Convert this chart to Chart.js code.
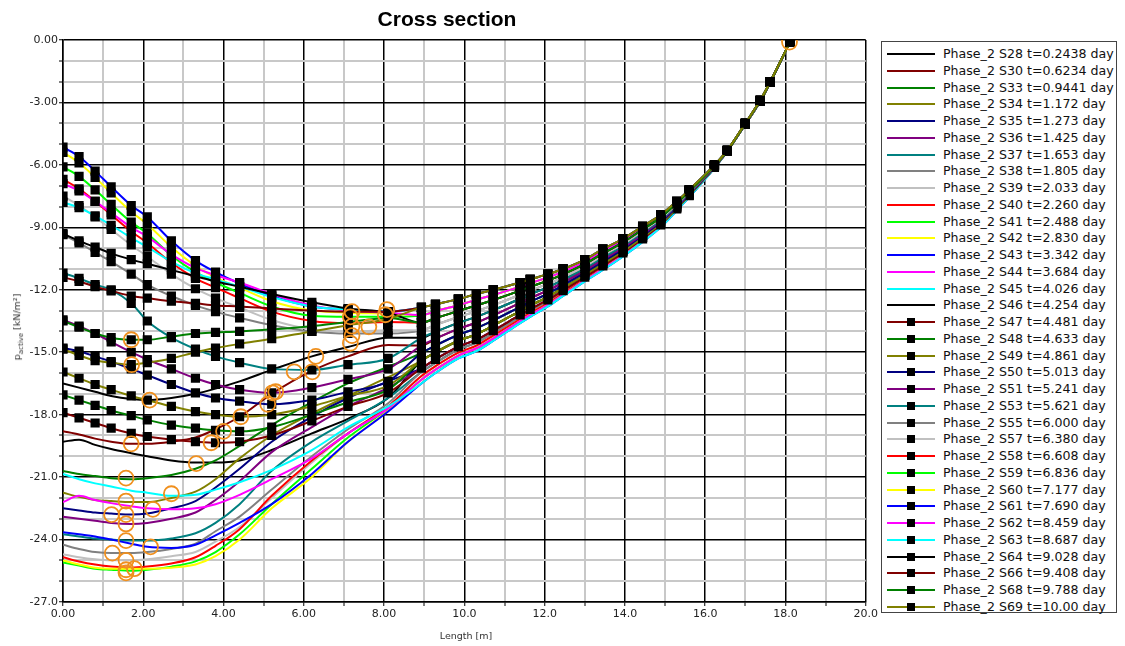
<!DOCTYPE html>
<html>
<head>
<meta charset="utf-8">
<script src="https://cdn.jsdelivr.net/npm/chart.js@4.4.1/dist/chart.umd.min.js"></script>
<style>
  html, body { margin: 0; padding: 0; background: #fff; }
  body { width: 1125px; height: 646px; position: relative; overflow: hidden; font-family: "DejaVu Sans", sans-serif; }
  #plot { position: absolute; left: 0; top: 0; width: 880px; height: 646px; }
  #title { position: absolute; left: 0; top: 7px; width: 894px; text-align: center; font: bold 21px "Liberation Sans", Arial, sans-serif; color: #000; }
  #ytitle { position: absolute; left: 18px; top: 327px; transform: translate(-50%, -50%) rotate(-90deg); white-space: nowrap; font-size: 9.5px; color: #333; }
  #ytitle sub { font-size: 7px; }
  #xtitle { position: absolute; left: 466px; top: 630px; transform: translateX(-50%); white-space: nowrap; font-size: 9.5px; color: #333; }
  #legend { position: absolute; left: 881px; top: 41px; width: 236px; height: 572px; border: 1.5px solid #444; box-sizing: border-box; }
  .row { position: absolute; left: 0; height: 16px; width: 236px; }
  .row .ln { position: absolute; left: 5px; top: 7px; width: 48px; height: 2px; }
  .row .mk { position: absolute; left: 25px; top: 4px; width: 8px; height: 8px; background: #000; }
  .row .tx { position: absolute; left: 61px; top: 0; line-height: 16px; font-size: 12.6px; color: #111; white-space: nowrap; }
</style>
</head>
<body>
<div id="plot"><canvas id="c"></canvas></div>
<div id="title">Cross section</div>
<div id="ytitle">p<sub>active</sub> [kN/m²]</div>
<div id="xtitle">Length [m]</div>
<div id="legend"></div>
<script>
// abscisa de los nodos (m)
const lengthM = [0, 0.4, 0.8, 1.2, 1.7, 2.1, 2.7, 3.3, 3.8, 4.4, 5.2, 6.2, 7.1, 8.1,
  8.93, 9.28, 9.85, 10.3, 10.72, 11.39, 11.64, 12.08, 12.46, 13.0, 13.45, 13.95, 14.44, 14.89, 15.29, 15.6,
  16.23, 16.55, 17.0, 17.37, 17.62, 18.11];

// p_active por paso de cálculo (kN/m2)
const s28 = [-19.3, -19.2, -19.45, -19.65, -19.85, -20.0, -20.2, -20.3, -20.3, -20.2, -19.7, -18.9, -18.2, -17.2,
  -15.41, -15.01, -14.45, -14.13, -13.72, -13.02, -12.76, -12.34, -11.91, -11.29, -10.75, -10.15, -9.48, -8.82, -8.07, -7.45, -6.11, -5.33, -4.04, -2.94, -2.04, -0.1];
const s30 = [-18.8, -18.95, -19.15, -19.3, -19.4, -19.4, -19.3, -19.1, -18.7, -18.1, -17.0, -15.9, -15.2, -14.65,
  -14.68, -14.35, -13.88, -13.58, -13.23, -12.63, -12.4, -12.03, -11.65, -11.08, -10.55, -9.98, -9.33, -8.7, -7.98, -7.38, -6.08, -5.32, -4.03, -2.93, -2.03, -0.1];
const s33 = [-20.7, -20.85, -20.95, -21.05, -21.1, -21.05, -20.9, -20.6, -20.2, -19.5, -18.5, -17.4, -16.5, -15.7,
  -15.04, -14.68, -14.16, -13.85, -13.47, -12.82, -12.58, -12.18, -11.78, -11.18, -10.65, -10.06, -9.4, -8.76, -8.02, -7.41, -6.09, -5.33, -4.03, -2.93, -2.03, -0.1];
const s34 = [-21.75, -21.95, -22.1, -22.15, -22.2, -22.2, -22.0, -21.7, -21.1, -20.1, -19.0, -17.95, -17.1, -16.2,
  -15.41, -15.01, -14.45, -14.13, -13.72, -13.02, -12.76, -12.34, -11.91, -11.29, -10.75, -10.15, -9.48, -8.82, -8.07, -7.45, -6.11, -5.33, -4.04, -2.94, -2.04, -0.1];
const s35 = [-22.5, -22.6, -22.7, -22.75, -22.8, -22.75, -22.5, -22.15, -21.5, -20.6, -19.3, -18.1, -17.2, -16.4,
  -15.77, -15.34, -14.73, -14.4, -13.96, -13.21, -12.94, -12.49, -12.04, -11.39, -10.85, -10.23, -9.55, -8.88, -8.11, -7.48, -6.12, -5.34, -4.04, -2.94, -2.04, -0.1];
const s36 = [-22.9, -23.0, -23.1, -23.2, -23.25, -23.2, -23.0, -22.7, -22.1, -21.2, -19.8, -18.6, -17.6, -16.7,
  -15.77, -15.34, -14.73, -14.4, -13.96, -13.21, -12.94, -12.49, -12.04, -11.39, -10.85, -10.23, -9.55, -8.88, -8.11, -7.48, -6.12, -5.34, -4.04, -2.94, -2.04, -0.1];
const s37 = [-23.75, -23.85, -23.95, -24.0, -24.05, -24.05, -23.95, -23.7, -23.2, -22.3, -20.7, -19.3, -18.3, -17.2,
  -15.95, -15.51, -14.87, -14.54, -14.08, -13.31, -13.03, -12.57, -12.11, -11.44, -10.9, -10.27, -9.59, -8.91, -8.13, -7.5, -6.13, -5.34, -4.04, -2.94, -2.04, -0.1];
const s38 = [-24.25, -24.45, -24.6, -24.65, -24.65, -24.6, -24.45, -24.2, -23.6, -22.9, -21.6, -20.0, -18.7, -17.45,
  -15.95, -15.51, -14.87, -14.54, -14.08, -13.31, -13.03, -12.57, -12.11, -11.44, -10.9, -10.27, -9.59, -8.91, -8.13, -7.5, -6.13, -5.34, -4.04, -2.94, -2.04, -0.1];
const s39 = [-24.7, -24.85, -24.95, -25.0, -25.0, -24.95, -24.8, -24.6, -24.1, -23.4, -22.0, -20.3, -18.9, -17.6,
  -16.14, -15.67, -15.02, -14.68, -14.2, -13.41, -13.12, -12.65, -12.17, -11.5, -10.95, -10.32, -9.63, -8.94, -8.16, -7.52, -6.14, -5.34, -4.04, -2.94, -2.04, -0.1];
const s40 = [-24.85, -25.05, -25.2, -25.3, -25.35, -25.3, -25.15, -24.85, -24.3, -23.5, -21.9, -20.2, -18.9, -17.6,
  -16.14, -15.67, -15.02, -14.68, -14.2, -13.41, -13.12, -12.65, -12.17, -11.5, -10.95, -10.32, -9.63, -8.94, -8.16, -7.52, -6.14, -5.34, -4.04, -2.94, -2.04, -0.1];
const s41 = [-25.1, -25.25, -25.4, -25.45, -25.5, -25.45, -25.3, -25.05, -24.6, -23.75, -22.3, -20.6, -19.1, -17.7,
  -16.32, -15.84, -15.16, -14.81, -14.33, -13.5, -13.21, -12.72, -12.24, -11.55, -11.0, -10.36, -9.66, -8.97, -8.18, -7.53, -6.14, -5.35, -4.05, -2.95, -2.05, -0.1];
const s42 = [-25.0, -25.2, -25.35, -25.4, -25.4, -25.4, -25.35, -25.2, -24.8, -24.0, -22.5, -21.0, -19.3, -17.8,
  -16.32, -15.84, -15.16, -14.81, -14.33, -13.5, -13.21, -12.72, -12.24, -11.55, -11.0, -10.36, -9.66, -8.97, -8.18, -7.53, -6.14, -5.35, -4.05, -2.95, -2.05, -0.1];
const s43 = [-23.65, -23.75, -23.85, -24.0, -24.2, -24.35, -24.4, -24.25, -23.8, -23.2, -22.3, -20.85, -19.3, -17.85,
  -16.5, -16.0, -15.3, -14.95, -14.45, -13.6, -13.3, -12.8, -12.3, -11.6, -11.05, -10.4, -9.7, -9.0, -8.2, -7.55, -6.15, -5.35, -4.05, -2.95, -2.05, -0.1];
const s44 = [-22.2, -21.9, -22.1, -22.25, -22.4, -22.5, -22.55, -22.5, -22.3, -21.85, -21.1, -20.1, -18.9, -17.7,
  -16.32, -15.84, -15.16, -14.81, -14.33, -13.5, -13.21, -12.72, -12.24, -11.55, -11.0, -10.36, -9.66, -8.97, -8.18, -7.53, -6.14, -5.35, -4.05, -2.95, -2.05, -0.1];
const s45 = [-20.85, -21.1, -21.3, -21.45, -21.65, -21.75, -21.9, -21.85, -21.6, -21.25, -20.65, -19.7, -18.6, -17.6,
  -16.5, -16.0, -15.3, -14.95, -14.45, -13.6, -13.3, -12.8, -12.3, -11.6, -11.05, -10.4, -9.7, -9.0, -8.2, -7.55, -6.15, -5.35, -4.05, -2.95, -2.05, -0.1];
const s46 = [-16.5, -16.7, -16.9, -17.1, -17.25, -17.3, -17.2, -17.0, -16.75, -16.4, -15.85, -15.2, -14.75, -14.3,
  -14.31, -14.02, -13.59, -13.3, -12.98, -12.43, -12.22, -11.87, -11.52, -10.97, -10.45, -9.89, -9.25, -8.64, -7.93, -7.34, -6.06, -5.32, -4.02, -2.92, -2.02, -0.1];
const s47 = [-17.9, -18.15, -18.4, -18.65, -18.9, -19.05, -19.2, -19.3, -19.35, -19.3, -19.0, -18.3, -17.6, -16.95,
  -15.77, -15.34, -14.73, -14.4, -13.96, -13.21, -12.94, -12.49, -12.04, -11.39, -10.85, -10.23, -9.55, -8.88, -8.11, -7.48, -6.12, -5.34, -4.04, -2.94, -2.04, -0.1];
const s48 = [-17.05, -17.3, -17.55, -17.8, -18.05, -18.25, -18.5, -18.65, -18.75, -18.8, -18.6, -18.0, -17.4, -16.8,
  -15.41, -15.01, -14.45, -14.13, -13.72, -13.02, -12.76, -12.34, -11.91, -11.29, -10.75, -10.15, -9.48, -8.82, -8.07, -7.45, -6.11, -5.33, -4.04, -2.94, -2.04, -0.1];
const s49 = [-15.95, -16.25, -16.55, -16.8, -17.1, -17.3, -17.6, -17.85, -18.0, -18.1, -18.0, -17.6, -17.1, -16.6,
  -15.41, -15.01, -14.45, -14.13, -13.72, -13.02, -12.76, -12.34, -11.91, -11.29, -10.75, -10.15, -9.48, -8.82, -8.07, -7.45, -6.11, -5.33, -4.04, -2.94, -2.04, -0.1];
const s50 = [-14.8, -14.95, -15.2, -15.45, -15.8, -16.1, -16.55, -16.95, -17.2, -17.35, -17.5, -17.3, -16.9, -16.4,
  -15.04, -14.68, -14.16, -13.85, -13.47, -12.82, -12.58, -12.18, -11.78, -11.18, -10.65, -10.06, -9.4, -8.76, -8.02, -7.41, -6.09, -5.33, -4.03, -2.93, -2.03, -0.1];
const s51 = [-13.45, -13.75, -14.1, -14.5, -15.0, -15.35, -15.8, -16.25, -16.55, -16.8, -16.95, -16.7, -16.3, -15.8,
  -14.68, -14.35, -13.88, -13.58, -13.23, -12.63, -12.4, -12.03, -11.65, -11.08, -10.55, -9.98, -9.33, -8.7, -7.98, -7.38, -6.08, -5.32, -4.03, -2.93, -2.03, -0.1];
const s53 = [-11.2, -11.45, -11.75, -12.0, -12.65, -13.5, -14.3, -14.85, -15.2, -15.5, -15.8, -15.85, -15.6, -15.3,
  -14.31, -14.02, -13.59, -13.3, -12.98, -12.43, -12.22, -11.87, -11.52, -10.97, -10.45, -9.89, -9.25, -8.64, -7.93, -7.34, -6.06, -5.32, -4.02, -2.92, -2.02, -0.1];
const s55 = [-9.35, -9.75, -10.2, -10.65, -11.25, -11.75, -12.3, -12.75, -13.05, -13.35, -13.7, -14.0, -14.1, -14.1,
  -13.95, -13.69, -13.31, -13.03, -12.74, -12.24, -12.04, -11.72, -11.39, -10.87, -10.35, -9.81, -9.18, -8.58, -7.89, -7.31, -6.05, -5.31, -4.02, -2.92, -2.02, -0.1];
const s57 = [-7.5, -7.95, -8.5, -9.1, -9.85, -10.4, -11.25, -11.95, -12.4, -12.85, -13.45, -13.9, -14.0, -13.95,
  -13.95, -13.69, -13.31, -13.03, -12.74, -12.24, -12.04, -11.72, -11.39, -10.87, -10.35, -9.81, -9.18, -8.58, -7.89, -7.31, -6.05, -5.31, -4.02, -2.92, -2.02, -0.1];
const s58 = [-6.7, -7.15, -7.75, -8.4, -9.2, -9.75, -10.7, -11.45, -11.9, -12.4, -13.05, -13.5, -13.6, -13.55,
  -13.58, -13.36, -13.02, -12.75, -12.49, -12.04, -11.86, -11.56, -11.26, -10.76, -10.25, -9.72, -9.1, -8.52, -7.84, -7.27, -6.03, -5.31, -4.01, -2.91, -2.01, -0.1];
const s59 = [-6.1, -6.55, -7.2, -7.9, -8.75, -9.3, -10.35, -11.15, -11.65, -12.15, -12.8, -13.25, -13.3, -13.3,
  -13.22, -13.03, -12.74, -12.48, -12.25, -11.85, -11.68, -11.41, -11.13, -10.66, -10.15, -9.64, -9.03, -8.46, -7.8, -7.24, -6.02, -5.3, -4.0, -2.9, -2.0, -0.1];
const s60 = [-5.4, -5.9, -6.6, -7.35, -8.25, -8.85, -9.95, -10.85, -11.4, -11.9, -12.55, -13.0, -13.1, -13.15,
  -13.22, -13.03, -12.74, -12.48, -12.25, -11.85, -11.68, -11.41, -11.13, -10.66, -10.15, -9.64, -9.03, -8.46, -7.8, -7.24, -6.02, -5.3, -4.0, -2.9, -2.0, -0.1];
const s61 = [-5.15, -5.6, -6.3, -7.05, -7.95, -8.5, -9.65, -10.6, -11.15, -11.7, -12.3, -12.8, -12.95, -13.05,
  -12.85, -12.7, -12.45, -12.2, -12.0, -11.65, -11.5, -11.25, -11.0, -10.55, -10.05, -9.55, -8.95, -8.4, -7.75, -7.2, -6.0, -5.3, -4.0, -2.9, -2.0, -0.1];
const s62 = [-6.9, -7.25, -7.75, -8.3, -9.0, -9.45, -10.3, -10.95, -11.3, -11.65, -12.2, -12.75, -13.0, -13.1,
  -13.22, -13.03, -12.74, -12.48, -12.25, -11.85, -11.68, -11.41, -11.13, -10.66, -10.15, -9.64, -9.03, -8.46, -7.8, -7.24, -6.02, -5.3, -4.0, -2.9, -2.0, -0.1];
const s63 = [-7.8, -8.05, -8.45, -8.9, -9.5, -9.95, -10.65, -11.2, -11.5, -11.85, -12.35, -12.8, -12.95, -13.05,
  -12.85, -12.7, -12.45, -12.2, -12.0, -11.65, -11.5, -11.25, -11.0, -10.55, -10.05, -9.55, -8.95, -8.4, -7.75, -7.2, -6.0, -5.3, -4.0, -2.9, -2.0, -0.1];
const s64 = [-9.3, -9.65, -9.95, -10.25, -10.55, -10.75, -11.05, -11.35, -11.6, -11.85, -12.2, -12.6, -12.9, -13.1,
  -13.58, -13.36, -13.02, -12.75, -12.49, -12.04, -11.86, -11.56, -11.26, -10.76, -10.25, -9.72, -9.1, -8.52, -7.84, -7.27, -6.03, -5.31, -4.01, -2.91, -2.01, -0.1];
const s66 = [-11.4, -11.6, -11.85, -12.05, -12.3, -12.4, -12.55, -12.65, -12.75, -12.8, -12.9, -13.0, -13.05, -13.05,
  -12.85, -12.7, -12.45, -12.2, -12.0, -11.65, -11.5, -11.25, -11.0, -10.55, -10.05, -9.55, -8.95, -8.4, -7.75, -7.2, -6.0, -5.3, -4.0, -2.9, -2.0, -0.1];
const s68 = [-13.5, -13.8, -14.1, -14.3, -14.4, -14.4, -14.25, -14.1, -14.05, -14.0, -13.9, -13.75, -13.55, -13.35,
  -13.58, -13.36, -13.02, -12.75, -12.49, -12.04, -11.86, -11.56, -11.26, -10.76, -10.25, -9.72, -9.1, -8.52, -7.84, -7.27, -6.03, -5.31, -4.01, -2.91, -2.01, -0.1];
const s69 = [-14.85, -15.15, -15.4, -15.5, -15.6, -15.5, -15.3, -15.0, -14.8, -14.6, -14.35, -14.0, -13.7, -13.4,
  -12.85, -12.7, -12.45, -12.2, -12.0, -11.65, -11.5, -11.25, -11.0, -10.55, -10.05, -9.55, -8.95, -8.4, -7.75, -7.2, -6.0, -5.3, -4.0, -2.9, -2.0, -0.1];

// mínimos marcados con círculo naranja
const minX = [1.70, 3.69, 3.32, 1.57, 2.70, 1.57, 1.21, 1.57, 2.24, 1.57, 1.57, 2.18, 1.23, 1.57, 1.57, 1.78, 1.57, 1.70, 1.71, 2.16, 4.00, 4.43, 5.10, 5.22, 5.30, 5.76, 6.21, 6.30, 7.16, 7.20, 7.20, 7.16, 7.20, 7.62, 8.03, 8.07, 18.1];
const minY = [-19.4, -19.35, -20.35, -21.05, -21.8, -22.15, -22.8, -22.8, -22.55, -23.25, -24.05, -24.35, -24.65, -25.0, -25.45, -25.4, -25.6, -14.4, -15.6, -17.3, -18.8, -18.1, -17.5, -16.95, -16.9, -15.94, -15.94, -15.2, -14.57, -14.2, -13.75, -13.3, -13.05, -13.78, -13.2, -12.95, -0.1];

const stepNames = ['Phase_2 S28 t=0.2438 day', 'Phase_2 S30 t=0.6234 day', 'Phase_2 S33 t=0.9441 day', 'Phase_2 S34 t=1.172 day',
  'Phase_2 S35 t=1.273 day', 'Phase_2 S36 t=1.425 day', 'Phase_2 S37 t=1.653 day', 'Phase_2 S38 t=1.805 day',
  'Phase_2 S39 t=2.033 day', 'Phase_2 S40 t=2.260 day', 'Phase_2 S41 t=2.488 day', 'Phase_2 S42 t=2.830 day',
  'Phase_2 S43 t=3.342 day', 'Phase_2 S44 t=3.684 day', 'Phase_2 S45 t=4.026 day', 'Phase_2 S46 t=4.254 day',
  'Phase_2 S47 t=4.481 day', 'Phase_2 S48 t=4.633 day', 'Phase_2 S49 t=4.861 day', 'Phase_2 S50 t=5.013 day',
  'Phase_2 S51 t=5.241 day', 'Phase_2 S53 t=5.621 day', 'Phase_2 S55 t=6.000 day', 'Phase_2 S57 t=6.380 day',
  'Phase_2 S58 t=6.608 day', 'Phase_2 S59 t=6.836 day', 'Phase_2 S60 t=7.177 day', 'Phase_2 S61 t=7.690 day',
  'Phase_2 S62 t=8.459 day', 'Phase_2 S63 t=8.687 day', 'Phase_2 S64 t=9.028 day', 'Phase_2 S66 t=9.408 day',
  'Phase_2 S68 t=9.788 day', 'Phase_2 S69 t=10.00 day'];
const steps = [s28, s30, s33, s34, s35, s36, s37, s38, s39, s40, s41, s42, s43, s44, s45, s46,
  s47, s48, s49, s50, s51, s53, s55, s57, s58, s59, s60, s61, s62, s63, s64, s66, s68, s69];

const xTickLabels = ['0.00', '2.00', '4.00', '6.00', '8.00', '10.0', '12.0', '14.0', '16.0', '18.0', '20.0'];
const yTickLabels = ['0.00', '-3.00', '-6.00', '-9.00', '-12.0', '-15.0', '-18.0', '-21.0', '-24.0', '-27.0'];

// paleta de 15 colores que se repite
const palette = ['#000000', '#800000', '#008000', '#808000', '#000080', '#800080', '#008080', '#808080',
  '#c0c0c0', '#ff0000', '#00ff00', '#ffff00', '#0000ff', '#ff00ff', '#00ffff'];
const firstMarked = 16;

const datasets = steps.map(function (s, i) {
  return {
    label: stepNames[i],
    data: lengthM.map(function (x, k) { return { x: x, y: s[k] }; }),
    borderColor: palette[i % palette.length],
    borderWidth: 2,
    pointRadius: i >= firstMarked ? 6.5 : 0,
    pointHoverRadius: 0,
    pointStyle: 'rect',
    pointBackgroundColor: '#000',
    pointBorderColor: '#000',
    pointBorderWidth: 0,
    cubicInterpolationMode: 'monotone',
    order: 100 - i
  };
});

datasets.push({
  label: 'min',
  data: minX.map(function (x, k) { return { x: x, y: minY[k] }; }),
  showLine: false,
  pointRadius: 7.5,
  pointStyle: 'circle',
  pointBackgroundColor: 'rgba(0,0,0,0)',
  pointBorderColor: '#f0901e',
  pointBorderWidth: 1.8,
  order: 0
});

new Chart(document.getElementById('c'), {
  type: 'line',
  data: { datasets: datasets },
  options: {
    responsive: true,
    maintainAspectRatio: false,
    animation: false,
    layout: { padding: { top: 40, right: 11, left: 0, bottom: 0 } },
    plugins: { legend: { display: false }, tooltip: { enabled: false }, title: { display: false } },
    scales: {
      x: {
        type: 'linear', min: 0, max: 20,
        afterFit: function (scale) { scale.height = 44; },
        border: { color: '#000', width: 1.5 },
        grid: {
          color: function (c) { return c.tick.value % 2 === 0 ? '#000' : '#c8c8c8'; },
          lineWidth: function (c) { return c.tick.value % 2 === 0 ? 1.5 : 2; },
          tickColor: '#000', tickLength: 4, tickWidth: 1
        },
        ticks: {
          stepSize: 1, autoSkip: false, maxRotation: 0, padding: 2,
          color: '#222', font: { family: 'DejaVu Sans', size: 11 },
          callback: function (v) { return v % 2 === 0 ? xTickLabels[v / 2] : ''; }
        }
      },
      y: {
        type: 'linear', min: -27, max: 0,
        afterFit: function (scale) { scale.width = 63; },
        border: { color: '#000', width: 1.5 },
        grid: {
          color: function (c) { return c.tick.value % 3 === 0 ? '#000' : '#c8c8c8'; },
          lineWidth: function (c) { return c.tick.value % 3 === 0 ? 1.5 : 2; },
          tickColor: '#000', tickLength: 4, tickWidth: 1
        },
        ticks: {
          stepSize: 1, autoSkip: false, padding: 1,
          color: '#222', font: { family: 'DejaVu Sans', size: 11 },
          callback: function (v) { return v % 3 === 0 ? yTickLabels[Math.round(-v / 3)] : ''; }
        }
      }
    }
  }
});

// leyenda a la derecha
let legend = document.getElementById('legend');
stepNames.forEach(function (name, i) {
  let row = document.createElement('div');
  row.className = 'row';
  row.style.top = (4 + i * 16.75) + 'px';
  let ln = document.createElement('div');
  ln.className = 'ln';
  ln.style.background = palette[i % palette.length];
  row.appendChild(ln);
  if (i >= firstMarked) {
    let mk = document.createElement('div');
    mk.className = 'mk';
    row.appendChild(mk);
  }
  let tx = document.createElement('div');
  tx.className = 'tx';
  tx.appendChild(document.createTextNode(name));
  row.appendChild(tx);
  legend.appendChild(row);
});
</script>
</body>
</html>
